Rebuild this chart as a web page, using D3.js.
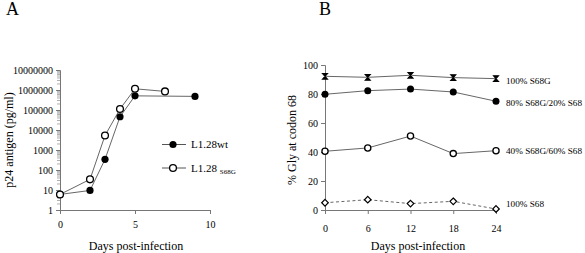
<!DOCTYPE html>
<html>
<head>
<meta charset="utf-8">
<script src="https://cdn.jsdelivr.net/npm/d3@7"></script>
<style>
  body { margin: 0; background: #fff; }
  svg text { font-family: "Liberation Serif", "DejaVu Serif", serif; }
</style>
</head>
<body>
<div id="chart"></div>
<script>
// panel A: p24 antigen (log scale)
const daysA_wt = [0, 2, 3, 4, 5, 9];
const p24_wt = [6, 9.5, 340, 46000, 510000, 480000];
const daysA_mut = [0, 2, 3, 4, 5, 7];
const p24_mut = [6, 34, 5300, 112000, 1150000, 850000];
const logTicks = [1, 10, 100, 1000, 10000, 100000, 1000000, 10000000];
const ticksA_x = [0, 5, 10];

// panel B: % Gly at codon 68
const daysB = [0, 6, 12, 18, 24];
const gly100 = [92.2, 91.5, 92.9, 91.3, 90.6];
const gly80 = [79.8, 82.3, 83.4, 81.4, 75];
const gly40 = [40.5, 42.8, 51, 38.9, 40.9];
const gly0 = [5, 7.1, 4.4, 6, 0.7];
const seriesB_labels = ["100% S68G", "80% S68G/20% S68", "40% S68G/60% S68", "100% S68"];
const ticksB_y = [0, 20, 40, 60, 80, 100];

const W = 585, H = 253;
const svg = d3.select("#chart").append("svg")
    .attr("width", W).attr("height", H)
    .attr("font-family", "Liberation Serif");

const lineCol = "#555";

function styleAxis(ax) {
    ax.attr("font-family", "Liberation Serif");
    ax.select(".domain").attr("stroke", "#777");
    ax.selectAll(".tick line").attr("stroke", "#777");
    ax.selectAll("text").attr("font-size", 10).attr("fill", "#000");
}

// ---------- panel A ----------
const xA = d3.scaleLinear().domain([0, 10]).range([60, 210]);
const yA = d3.scaleLog().domain([1, 1e7]).range([210, 70]);

const gA = svg.append("g");

// minor ticks on log axis
const minor = [];
for (let e = 0; e < 7; e++) {
    for (let m = 2; m <= 9; m++) minor.push(m * Math.pow(10, e));
}
gA.selectAll(".minor").data(minor).join("line")
    .attr("x1", 57).attr("x2", 60)
    .attr("y1", d => yA(d)).attr("y2", d => yA(d))
    .attr("stroke", "#999").attr("stroke-width", 0.8);

const yAxisA = gA.append("g")
    .attr("transform", "translate(60,0)")
    .call(d3.axisLeft(yA).tickValues(logTicks).tickFormat(d3.format("d")).tickSize(4).tickPadding(3));
const xAxisA = gA.append("g")
    .attr("transform", "translate(0,210)")
    .call(d3.axisBottom(xA).tickValues(ticksA_x).tickSize(4).tickPadding(7));
styleAxis(yAxisA);
styleAxis(xAxisA);

const lineA = d3.line().x(d => xA(d[0])).y(d => yA(d[1]));
const wt = daysA_wt.map((d, i) => [d, p24_wt[i]]);
const mut = daysA_mut.map((d, i) => [d, p24_mut[i]]);

gA.append("path").datum(wt).attr("d", lineA)
    .attr("fill", "none").attr("stroke", lineCol).attr("stroke-width", 0.9);
gA.append("path").datum(mut).attr("d", lineA)
    .attr("fill", "none").attr("stroke", lineCol).attr("stroke-width", 0.9);

gA.selectAll(".wt").data(wt).join("circle")
    .attr("cx", d => xA(d[0])).attr("cy", d => yA(d[1])).attr("r", 3.6)
    .attr("fill", "#000");
gA.selectAll(".mut").data(mut).join("circle")
    .attr("cx", d => xA(d[0])).attr("cy", d => yA(d[1])).attr("r", 3.4)
    .attr("fill", "#fff").attr("stroke", "#000").attr("stroke-width", 1.3);

// legend A
const legA = gA.append("g");
legA.append("line").attr("x1", 162).attr("x2", 186).attr("y1", 144.5).attr("y2", 144.5).attr("stroke", lineCol);
legA.append("circle").attr("cx", 173).attr("cy", 144.5).attr("r", 3.6).attr("fill", "#000");
legA.append("text").attr("x", 191).attr("y", 148).attr("font-size", 11).text("L1.28wt");
legA.append("line").attr("x1", 162).attr("x2", 186).attr("y1", 168).attr("y2", 168).attr("stroke", lineCol);
legA.append("circle").attr("cx", 173).attr("cy", 168).attr("r", 3.4)
    .attr("fill", "#fff").attr("stroke", "#000").attr("stroke-width", 1.3);
const t2 = legA.append("text").attr("x", 191).attr("y", 171.5).attr("font-size", 11);
t2.append("tspan").text("L1.28 ");
t2.append("tspan").attr("font-size", 7).attr("dy", 2).text("S68G");

gA.append("text").attr("transform", "translate(13,140) rotate(-90)")
    .attr("text-anchor", "middle").attr("font-size", 12).text("p24 antigen (pg/ml)");
gA.append("text").attr("x", 136).attr("y", 250)
    .attr("text-anchor", "middle").attr("font-size", 12).text("Days post-infection");
gA.append("text").attr("x", 6).attr("y", 15).attr("font-size", 18).text("A");

// ---------- panel B ----------
const xB = d3.scaleLinear().domain([0, 24]).range([325, 496]);
const yB = d3.scaleLinear().domain([0, 100]).range([210, 65]);
const gB = svg.append("g");

const yAxisB = gB.append("g").attr("transform", "translate(325,0)")
    .call(d3.axisLeft(yB).tickValues(ticksB_y).tickSize(4).tickPadding(3));
const xAxisB = gB.append("g").attr("transform", "translate(0,210)")
    .call(d3.axisBottom(xB).tickValues(daysB).tickSize(4).tickPadding(11));
styleAxis(yAxisB);
styleAxis(xAxisB);

const lineB = d3.line().x(d => xB(d[0])).y(d => yB(d[1]));
const seriesB = [gly100, gly80, gly40, gly0].map(vals => daysB.map((d, i) => [d, vals[i]]));

seriesB.forEach((s, k) => {
    gB.append("path").datum(s).attr("d", lineB)
        .attr("fill", "none").attr("stroke", lineCol).attr("stroke-width", 0.9)
        .attr("stroke-dasharray", k === 3 ? "3,2.5" : null);
});

// hourglass markers
gB.selectAll(".hg").data(seriesB[0]).join("path")
    .attr("transform", d => `translate(${xB(d[0])},${yB(d[1])})`)
    .attr("d", "M-2.5,-2.8L2.5,-2.8L-2.5,2.8L2.5,2.8Z")
    .attr("fill", "#000").attr("stroke", "#000").attr("stroke-width", 1.1);
gB.selectAll(".fc").data(seriesB[1]).join("circle")
    .attr("cx", d => xB(d[0])).attr("cy", d => yB(d[1])).attr("r", 3.5).attr("fill", "#000");
gB.selectAll(".oc").data(seriesB[2]).join("circle")
    .attr("cx", d => xB(d[0])).attr("cy", d => yB(d[1])).attr("r", 3.1)
    .attr("fill", "#fff").attr("stroke", "#000").attr("stroke-width", 1.3);
gB.selectAll(".dm").data(seriesB[3]).join("path")
    .attr("transform", d => `translate(${xB(d[0])},${yB(d[1])})`)
    .attr("d", "M0,-3.3L3.3,0L0,3.3L-3.3,0Z")
    .attr("fill", "#fff").attr("stroke", "#000").attr("stroke-width", 1.2);

const labelY = [80, 102, 150.5, 203.5];
seriesB_labels.forEach((t, i) => {
    gB.append("text").attr("x", 506).attr("y", labelY[i] + 3.5)
        .attr("font-size", 9.2)
        .text(t);
});

gB.append("text").attr("transform", "translate(296,140) rotate(-90)")
    .attr("text-anchor", "middle").attr("font-size", 12).text("% Gly at codon 68");
gB.append("text").attr("x", 418).attr("y", 250)
    .attr("text-anchor", "middle").attr("font-size", 12).text("Days post-infection");
gB.append("text").attr("x", 319).attr("y", 15).attr("font-size", 18).text("B");
</script>
</body>
</html>
